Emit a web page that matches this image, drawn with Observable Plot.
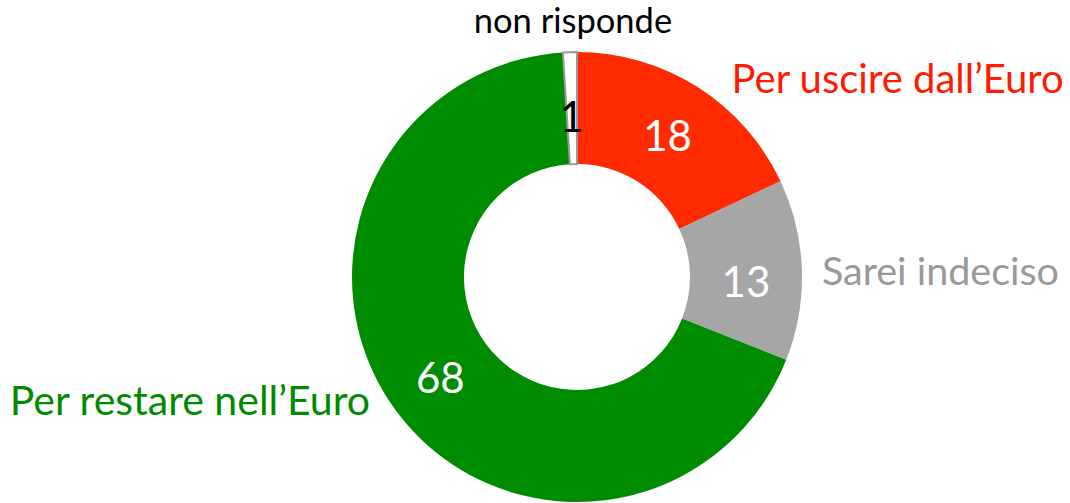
<!DOCTYPE html>
<html>
<head>
<meta charset="utf-8">
<script src="https://cdn.jsdelivr.net/npm/d3@7"></script>
<script src="https://cdn.jsdelivr.net/npm/@observablehq/plot@0.6"></script>
<style>
  html, body { margin: 0; padding: 0; background: #fff; }
  #chart svg { display: block; }
</style>
</head>
<body>
<div id="chart"></div>
<script>
// Data
const categories = ["Per uscire dall\u2019Euro", "Sarei indeciso", "Per restare nell\u2019Euro", "non risponde"];
const values = [18, 13, 68, 1];
const sliceColors = ["#FF2A00", "#A6A6A6", "#008C00", "#FFFFFF"];
const labelColors = ["#FF1A00", "#999999", "#008A00", "#000000"];
const valueLabelColors = ["#FFFFFF", "#FFFFFF", "#FFFFFF", "#000000"];

const W = 1070, H = 503;
const FONT = "Lato, 'Open Sans', sans-serif";

// label layout (offsets relative to slice geometry)
const catLayout = [
  {anchor: "start", dx: 34, dy: 6, size: 40},
  {anchor: "start", dx: 20, dy: 15, size: 39.5},
  {anchor: "end", dx: -25, dy: 6, size: 41},
  {anchor: "middle", dx: 3, dy: -19, size: 34.5}
];
const valLayout = [
  {dy: 6}, {dy: 15}, {dy: 6}, {dy: 13}
];

const data = categories.map((c, i) => ({category: c, value: values[i]}));

const donut = (index, scales) => {
  const cx = 577, cy = 277;
  const outer = 225, inner = 113;
  const color = scales.color;
  const pie = d3.pie().sort(null).value(d => d.value);
  const arcs = pie(data);
  const arc = d3.arc().innerRadius(inner).outerRadius(outer);
  const g = d3.create("svg:g").attr("transform", `translate(${cx},${cy})`);
  g.selectAll("path.slice")
    .data(arcs)
    .join("path")
    .attr("class", "slice")
    .attr("d", arc)
    .attr("fill", d => color(d.data.category))
    .attr("stroke", d => d.data.category === "non risponde" ? "#999999" : "none")
    .attr("stroke-width", 2);
  // value labels
  g.selectAll("text.val")
    .data(arcs)
    .join("text")
    .attr("class", "val")
    .attr("x", d => arc.centroid(d)[0])
    .attr("y", (d, i) => arc.centroid(d)[1] + valLayout[i].dy)
    .attr("text-anchor", "middle")
    .attr("dominant-baseline", "middle")
    .attr("font-family", FONT)
    .attr("font-size", 42)
    .attr("fill", (d, i) => valueLabelColors[i])
    .text(d => d.data.value);
  // category labels
  const outerArc = d3.arc().innerRadius(outer).outerRadius(outer);
  g.selectAll("text.cat")
    .data(arcs)
    .join("text")
    .attr("class", "cat")
    .attr("x", (d, i) => outerArc.centroid(d)[0] + catLayout[i].dx)
    .attr("y", (d, i) => outerArc.centroid(d)[1] + catLayout[i].dy)
    .attr("text-anchor", (d, i) => catLayout[i].anchor)
    .attr("font-family", FONT)
    .attr("font-size", (d, i) => catLayout[i].size)
    .attr("fill", (d, i) => labelColors[i])
    .text(d => d.data.category);
  return g.node();
};

const chart = Plot.plot({
  width: W,
  height: H,
  margin: 0,
  x: {axis: null, domain: [0, 1]},
  y: {axis: null, domain: [0, 1]},
  color: {domain: categories, range: sliceColors},
  style: {background: "#fff", overflow: "visible"},
  marks: [
    donut
  ]
});
document.getElementById("chart").appendChild(chart);
</script>
</body>
</html>
